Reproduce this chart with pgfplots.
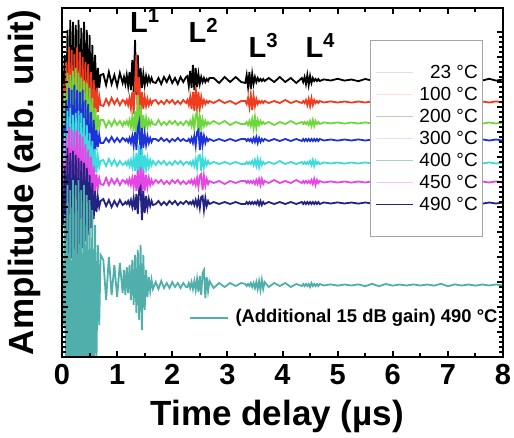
\documentclass[border=0pt]{standalone}
\usepackage{fontspec}
\setmainfont{Liberation Sans}
\usepackage{pgfplots}
\usepackage{pgfplotstable}
\pgfplotsset{compat=1.18}

\definecolor{c23}{RGB}{0,0,0}
\definecolor{c100}{RGB}{240,60,30}
\definecolor{c200}{RGB}{110,215,60}
\definecolor{c300}{RGB}{30,50,220}
\definecolor{c400}{RGB}{60,220,220}
\definecolor{c450}{RGB}{230,70,230}
\definecolor{c490}{RGB}{35,35,130}
\definecolor{cgain}{RGB}{80,175,170}

% offsets from each trace's own baseline (picture units)
% t = time delay (us); k=23, r=100, g=200, b=300, c=400, m=450, n=490 C, q=490 C +15 dB
\pgfplotstableread{
t k r g b c m n q
0.000 5 -8 6 -5 4 -6 5 20
0.025 -15 18 -20 15 -18 20 -22 -40
0.050 25 -30 32 -28 30 -35 35 70
0.075 -35 40 -42 40 -45 45 -48 -110
0.100 50 -45 50 -50 52 -50 55 100
0.125 -40 55 -52 52 -50 55 -52 -180
0.150 60 -50 48 -55 55 -48 50 95
0.175 -45 52 -55 50 -52 52 -55 -200
0.200 58 -55 52 -52 48 -55 52 105
0.225 -50 48 -50 55 -55 50 -50 -190
0.250 55 -52 55 -48 50 -50 48 100
0.275 -42 55 -48 50 -48 52 -52 -200
0.300 60 -45 50 -50 52 -45 45 105
0.325 -48 50 -52 48 -45 48 -48 -180
0.350 52 -50 45 -45 50 -42 42 95
0.375 -45 45 -50 50 -42 45 -45 -190
0.400 58 -48 42 -42 45 -40 40 100
0.425 -40 40 -45 40 -40 38 -38 -175
0.450 50 -42 40 -38 38 -35 35 90
0.475 -38 38 -38 36 -35 32 -32 -170
0.500 45 -35 35 -32 30 -28 28 85
0.525 -35 30 -30 28 -28 25 -25 -150
0.550 35 -28 25 -24 22 -20 20 75
0.575 -25 22 -20 20 -18 16 -16 -120
0.600 25 -18 15 -15 14 -12 12 60
0.625 -15 14 -12 10 -10 8 -9 -80
0.650 12 -10 8 -7 7 -6 6 40
0.675 -8 6 -5 5 -4 4 -4 -40
0.700 5 -3 3 -3 2 -2 2 30
0.75 6 -4 3 -3 3 -3 4 25
0.80 -5 3 -4 2 -3 4 -3 -15
0.85 8 -3 2 -2 4 -3 3 28
0.90 -4 4 -3 3 -2 3 -4 -10
0.95 5 -2 3 -2 3 -2 2 20
1.00 -6 3 -2 2 -3 3 -3 -12
1.05 7 -3 2 -2 2 -3 3 22
1.10 -3 2 -3 2 -2 2 -2 -8
1.125 3 1 1 1 -1 1 -1 15
1.150 -4 -2 -1 -1 1 -1 1 -10
1.175 5 2 2 1 -2 2 -1 18
1.200 -6 -3 -2 -2 2 -2 2 -8
1.225 8 4 3 2 -3 3 -2 20
1.250 -10 -6 -4 -3 3 -3 3 -15
1.275 20 10 6 4 -4 4 -4 25
1.300 -12 -12 -8 -6 6 -5 5 -20
1.325 40 18 12 8 -8 7 -7 30
1.350 -15 47 -14 -10 10 -9 9 -28
1.375 25 -23 28 12 -12 12 -11 35
1.400 -12 25 -17 18 18 -13 13 -35
1.425 12 -12 18 -15 -17 15 16 40
1.450 -8 10 -10 12 14 -15 -17 -45
1.475 6 -7 8 -8 -10 12 12 30
1.500 -5 5 -6 6 8 -9 -10 -25
1.525 4 -4 5 -5 -6 7 7 15
1.550 -3 3 -4 4 5 -5 -5 -12
1.575 3 -3 3 -3 -4 4 4 8
1.600 -2 2 -2 2 3 -3 -3 -6
1.625 2 -2 2 -2 -2 2 2 5
1.650 -2 1 -1 1 2 -2 -2 -4
1.70 -3 2 -2 1 -2 2 -1 3
1.75 2 -2 3 -1 2 -1 2 -4
1.80 -4 1 -2 2 -1 2 -2 4
1.85 3 -2 1 -1 2 -2 1 -3
1.90 -2 2 -2 1 -2 1 -2 2
1.95 4 -1 2 -2 1 -2 2 -3
2.00 -3 2 -1 1 -2 2 -1 3
2.05 2 -2 2 -1 2 -1 2 -2
2.10 -4 1 -2 2 -1 2 -2 2
2.15 3 -2 1 -1 2 -2 1 -3
2.20 -2 2 -2 1 -2 1 -1 2
2.25 3 -1 2 -1 1 -2 2 -2
2.275 4 2 1 -1 1 -1 1 -2
2.300 -6 -3 -2 1 -1 1 -1 2
2.325 9 5 2 -2 1 -1 1 -3
2.350 -8 -7 -3 2 -2 2 -1 3
2.375 15 10 5 -3 2 -2 2 -4
2.400 -10 -9 -6 4 -3 2 -2 4
2.425 12 15 8 -6 4 -3 3 -5
2.450 -7 -10 11 8 -5 4 -3 6
2.475 6 10 -12 10 7 -5 4 -7
2.500 -4 -6 8 -10 8 6 -5 9
2.525 3 5 -6 8 -8 8 6 -10
2.550 -2 -3 4 -5 6 -8 7 12
2.575 2 2 -3 4 -4 6 -7 15
2.600 -2 -2 2 -3 3 -4 5 -13
2.625 1 1 -2 2 -2 3 -3 8
2.650 -1 -1 1 -1 2 -2 2 -6
2.675 2 1 -1 1 -1 1 -1 4
2.75 2 -1 2 -1 1 -1 1 -3
2.85 -3 2 -1 1 -1 1 -1 2
2.95 3 -1 2 -1 1 -2 1 -2
3.05 -2 1 -2 1 -1 1 -1 2
3.15 3 -2 1 -1 1 -1 1 -1
3.25 -2 1 -1 1 -1 1 -1 2
3.325 -3 1 -1 1 -1 1 -1 1
3.350 5 -2 1 -1 1 -1 1 -1
3.375 -7 4 -2 1 -1 1 -1 1
3.400 8 -5 2 -1 1 -1 1 -1
3.425 -9 7 -3 1 -1 1 -1 2
3.450 6 -8 4 -2 2 -1 1 -2
3.475 -4 6 -5 2 -2 1 -1 2
3.500 3 -4 6 -2 3 -2 1 -3
3.525 -2 3 -5 3 -3 2 -1 3
3.550 2 -2 3 -3 4 -2 2 -4
3.575 -1 1 -2 2 -4 3 -2 4
3.600 1 -1 2 -2 3 -3 2 -5
3.625 -1 1 -1 1 -2 3 -2 5
3.650 1 -1 1 -1 1 -2 1 -4
3.675 -1 1 -1 1 -1 1 -1 3
3.75 2 -1 1 -1 1 -1 1 -2
3.85 -2 1 -2 1 -1 2 -1 2
3.95 3 -1 1 -1 2 -1 1 -1
4.05 -2 2 -1 1 -1 1 -1 2
4.15 2 -1 2 -1 1 -1 1 -2
4.25 -3 1 -1 1 -1 2 -1 1
4.35 2 -1 1 -1 1 -1 1 -1
4.375 -2 1 -1 1 -1 1 -1 1
4.400 3 -1 1 -1 1 -1 1 -1
4.425 -4 2 -1 1 -1 1 -1 1
4.450 5 -3 1 -1 1 -1 1 -1
4.475 -5 3 -2 1 -1 1 -1 1
4.500 4 -4 2 -1 2 -1 1 -2
4.525 -3 4 -3 1 -2 2 -1 2
4.550 2 -3 3 -1 3 -2 1 -1
4.575 -1 2 -3 1 -3 3 -1 1
4.600 1 -1 2 -1 2 -3 1 -1
4.625 -1 1 -1 1 -1 2 -1 1
4.650 1 -1 1 -1 1 -1 1 -1
4.675 -1 1 -1 1 -1 1 -1 1
4.750 0.6 -0.5 0.6 -0.5 0.6 -0.5 0.6 -0.5
4.875 -0.5 0.6 -0.4 0.5 -0.5 0.6 -0.5 0.6
5.000 1.2 -0.5 0.6 -0.6 0.5 -0.5 0.6 -0.6
5.125 -0.6 0.5 -0.6 0.5 -0.6 0.5 -0.5 0.5
5.250 0.5 -0.6 0.5 -0.5 0.5 -0.6 0.5 -0.5
5.375 -1.2 0.5 -0.5 0.6 -0.5 0.5 -0.6 0.6
5.500 1.0 -0.5 0.6 -0.5 0.6 -0.5 0.5 -1.2
5.625 -0.6 0.6 -0.5 0.5 -0.5 0.6 -0.5 1.2
5.750 0.5 -0.5 0.6 -0.6 0.5 -0.5 0.6 -1.2
5.875 -0.5 0.5 -0.5 0.5 -0.6 0.5 -0.5 1.0
6.000 0.6 -0.6 0.5 -0.5 0.5 -0.6 0.5 -0.6
6.125 -0.5 0.5 -0.6 0.6 -0.5 0.5 -0.6 0.5
6.250 0.5 -0.5 0.5 -0.5 0.6 -0.5 0.5 -0.5
6.375 -0.6 0.6 -0.5 0.5 -0.5 0.6 -0.5 0.6
6.500 0.5 -0.5 0.6 -0.6 0.5 -0.5 0.6 -0.5
6.625 -0.5 0.5 -0.5 0.5 -0.6 0.5 -0.5 0.5
6.750 0.6 -0.6 0.5 -0.5 0.5 -0.6 0.5 -0.6
6.875 -0.5 0.5 -0.6 0.6 -0.5 0.5 -0.6 1.2
7.000 0.5 -0.5 0.5 -0.5 0.6 -0.5 0.5 -1.2
7.125 -0.6 0.6 -0.5 0.5 -0.5 0.6 -0.5 0.6
7.250 0.5 -0.5 0.6 -0.6 0.5 -0.5 0.6 -0.5
7.375 -0.5 0.5 -0.5 0.5 -0.6 0.5 -0.5 0.5
7.500 0.6 -0.6 0.5 -0.5 0.5 -0.6 0.5 -0.6
7.625 -0.5 0.5 -0.6 0.6 -0.5 0.5 -0.6 0.5
7.750 1.2 -0.5 0.5 -0.5 0.6 -0.5 0.5 -0.5
7.875 -0.6 0.6 -0.5 0.5 -0.5 0.6 -0.5 0.6
8.000 0.5 -0.5 0.6 -0.6 0.5 -0.5 0.6 -0.5
}\waves

\begin{document}
\begin{tikzpicture}
\begin{axis}[
    scale only axis, axis on top,
    width=220.5pt, height=174.5pt,
    xmin=0, xmax=8, ymin=0, ymax=349,
    axis line style={line width=1pt},
    xtick={0,1,...,8}, minor x tick num=1,
    ytick={0,25,50,75,100,125,150,175,200,225,250,275,300,325},
    minor y tick num=4, yticklabels={},
    tick align=inside, tick pos=both,
    major tick length=3.2pt, minor tick length=1.8pt,
    xtick style={black, line width=1pt},
    ytick style={black, line width=0.7pt},
    /pgf/number format/assume math mode=true,
    xticklabel style={font=\fontsize{14.5}{16}\selectfont\bfseries},
    xlabel={Time delay (µs)},
    ylabel={Amplitude (arb. unit)},
    every axis x label/.style={at={(axis description cs:0.488,-0.195)}, anchor=base,
        font=\fontsize{17.5}{20}\selectfont\bfseries},
    every axis y label/.style={at={(axis description cs:-0.085,0.5)}, rotate=90, anchor=center,
        font=\fontsize{17.5}{20}\selectfont\bfseries},
    legend image code/.code={\draw[#1, line width=0.7pt] (0pt,0pt) -- (18.5pt,0pt);},
    legend cell align=right,
    legend style={at={(0.955,0.908)}, anchor=north east,
        draw=gray!70, line width=0.4pt, fill=white,
        font=\fontsize{9.5}{10}\selectfont,
        inner xsep=2.5pt, inner ysep=12pt, row sep=3pt, column sep=3pt,
        nodes={inner xsep=0pt, inner ysep=0pt, text height=7pt, text depth=1pt}},
]
\addplot[c23, line width=0.9pt, forget plot] table[x=t, y expr=\thisrow{k}+277] {\waves};
\addplot[c100, line width=0.9pt, forget plot] table[x=t, y expr=\thisrow{r}+255] {\waves};
\addplot[c200, line width=0.9pt, forget plot] table[x=t, y expr=\thisrow{g}+234] {\waves};
\addplot[c300, line width=0.9pt, forget plot] table[x=t, y expr=\thisrow{b}+217] {\waves};
\addplot[c400, line width=0.9pt, forget plot] table[x=t, y expr=\thisrow{c}+194] {\waves};
\addplot[c450, line width=0.9pt, forget plot] table[x=t, y expr=\thisrow{m}+175] {\waves};
\addplot[c490, line width=0.9pt, forget plot] table[x=t, y expr=\thisrow{n}+154] {\waves};
\addplot[cgain, line width=0.9pt, forget plot] table[x=t, y expr=\thisrow{q}+72] {\waves};

\addlegendimage{black!12}\addlegendentry{23 °C}
\addlegendimage{c100!15}\addlegendentry{100 °C}
\addlegendimage{c200!40!gray!50}\addlegendentry{200 °C}
\addlegendimage{c300!15}\addlegendentry{300 °C}
\addlegendimage{c400!45!gray!55}\addlegendentry{400 °C}
\addlegendimage{c450!30}\addlegendentry{450 °C}
\addlegendimage{c490}\addlegendentry{490 °C}

\draw[cgain, line width=1pt] (axis cs:2.32,39) -- (axis cs:3.01,39);
\node[anchor=west, inner sep=0pt, font=\fontsize{9.2}{10}\selectfont\bfseries]
    at (axis cs:3.14,39) {(Additional 15 dB gain) 490 °C};

\begin{scope}[font=\fontsize{14.5}{16}\selectfont\bfseries]
\node[anchor=base west, inner sep=0pt] at (axis cs:1.23,324) {L\textsuperscript{1}};
\node[anchor=base west, inner sep=0pt] at (axis cs:2.29,314) {L\textsuperscript{2}};
\node[anchor=base west, inner sep=0pt] at (axis cs:3.38,299) {L\textsuperscript{3}};
\node[anchor=base west, inner sep=0pt] at (axis cs:4.41,299) {L\textsuperscript{4}};
\end{scope}

\coordinate (bbl) at (rel axis cs:-0.1406,-0.2292);
\coordinate (btr) at (rel axis cs:1.0249,1.0229);
\end{axis}
\pgfresetboundingbox
\path[use as bounding box] (bbl) rectangle (btr);
\end{tikzpicture}
\end{document}
